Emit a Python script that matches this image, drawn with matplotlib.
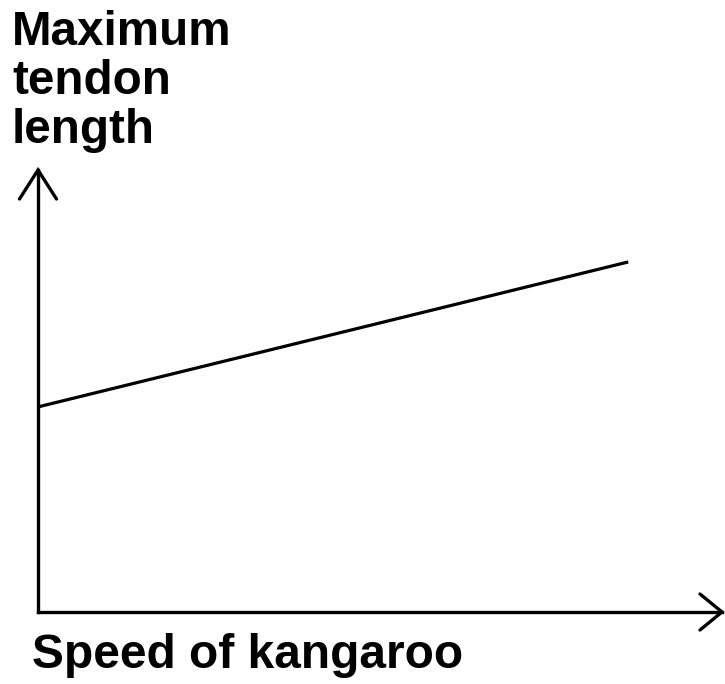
import matplotlib
matplotlib.use("Agg")
import matplotlib.pyplot as plt

plt.rcParams['font.family'] = ['Liberation Sans', 'DejaVu Sans']

# relationship sketch: speed vs maximum tendon length (arbitrary units)
speed = [0, 8.63]
tendon_length = [4.64, 7.92]
x_label = "Speed of kangaroo"
y_label = "Maximum\ntendon\nlength"

W, H = 725, 684
fig = plt.figure(figsize=(W / 100, H / 100), dpi=100)

# axes box: origin at (38, 612) px, x arrow tip at 722 px, y arrow tip at 170 px
ax = fig.add_axes([38 / W, (H - 612) / H, 684 / W, 442 / H])
ax.set_xlim(0, 10)
ax.set_ylim(0, 10)
ax.axis('off')

ax.plot(speed, tendon_length, color='black', lw=2.3, solid_capstyle='butt')

# axes with open arrowheads
lw = 2.4
ax.plot([0, 1], [0, 0], color='black', lw=lw, transform=ax.transAxes, clip_on=False)
ax.plot([0, 0], [0, 1], color='black', lw=lw, transform=ax.transAxes, clip_on=False)
dx, dy = 18.5 / 684, 29 / 442
ax.plot([-dx, 0, dx], [1 - dy, 1, 1 - dy], color='black', lw=lw,
        transform=ax.transAxes, clip_on=False, solid_joinstyle='miter', solid_capstyle='round')
hx, hy = 22 / 684, 18 / 442
ax.plot([1 - hx, 1, 1 - hx], [hy, 0, -hy], color='black', lw=lw,
        transform=ax.transAxes, clip_on=False, solid_joinstyle='miter', solid_capstyle='round')

fig.text(12 / W, 1 - 10 / H, y_label, ha='left', va='top', fontsize=34.3,
         fontweight='bold', linespacing=1.12)
fig.text(32 / W, 1 - 668 / H, x_label, ha='left', va='baseline', fontsize=34.5,
         fontweight='bold')

fig.savefig("out.png", dpi=100)
